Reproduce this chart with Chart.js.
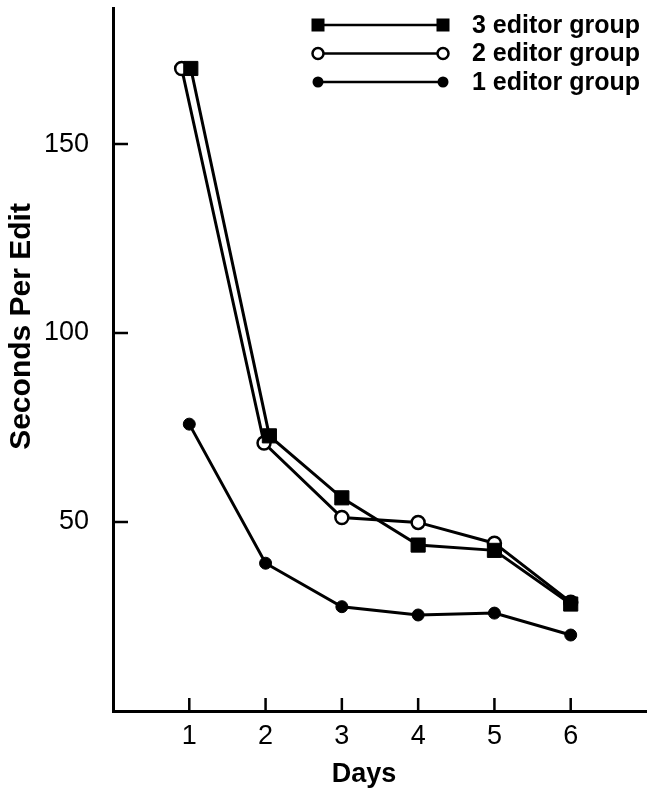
<!DOCTYPE html>
<html>
<head>
<meta charset="utf-8">
<title>Seconds Per Edit</title>
<script src="https://cdn.jsdelivr.net/npm/chart.js@4.4.1/dist/chart.umd.min.js"></script>
<style>
  html, body { margin: 0; padding: 0; background: #fff; }
  #wrap { width: 647px; height: 793px; position: relative; }
</style>
</head>
<body>
<div id="wrap"><canvas id="editChart"></canvas></div>
<script>
// values
var days3 = [1.02, 2.05, 3, 4, 5, 6];
var secs3 = [170, 72.8, 56.4, 43.9, 42.5, 28.3];

var days2 = [0.9, 1.98, 3, 4, 5, 6];
var secs2 = [170, 70.9, 51.2, 49.9, 44.4, 28.8];

var days1 = [1, 2, 3, 4, 5, 6];
var secs1 = [75.9, 39.1, 27.6, 25.4, 25.9, 20.1];

var groupNames = ['3 editor group', '2 editor group', '1 editor group'];
var dayTicks = [1, 2, 3, 4, 5, 6];
var secTicks = [50, 100, 150];

var FONT = '"Liberation Sans", Arial, sans-serif';

function pairs(xs, ys) {
    return xs.map(function (v, i) { return { x: v, y: ys[i] }; });
}

// inside tick marks, the two axis titles and the line-sample legend
var decor = {
    id: 'decor',
    afterDraw: function (chart) {
        var ctx = chart.ctx;
        var a = chart.chartArea;
        var xs = chart.scales.x, ys = chart.scales.y;

        ctx.save();
        ctx.strokeStyle = '#000';
        ctx.lineWidth = 2.5;
        ctx.beginPath();
        secTicks.forEach(function (v) {
            var py = ys.getPixelForValue(v);
            ctx.moveTo(a.left, py);
            ctx.lineTo(a.left + 15, py);
        });
        dayTicks.forEach(function (v) {
            var px = xs.getPixelForValue(v);
            ctx.moveTo(px, a.bottom);
            ctx.lineTo(px, a.bottom - 13);
        });
        ctx.stroke();

        ctx.fillStyle = '#000';
        ctx.textAlign = 'center';
        ctx.textBaseline = 'middle';
        ctx.font = 'bold 27px ' + FONT;
        ctx.fillText('Days', a.left + (a.right - a.left) * 0.47, 775);

        ctx.save();
        ctx.translate(22, a.top + (a.bottom - a.top) * 0.453);
        ctx.rotate(-Math.PI / 2);
        ctx.font = 'bold 30px ' + FONT;
        ctx.fillText('Seconds Per Edit', 0, 0);
        ctx.restore();

        // legend
        ctx.font = 'bold 25px ' + FONT;
        ctx.textAlign = 'left';
        chart.data.datasets.forEach(function (ds, i) {
            var ry = 25 + i * 28.5;
            var x1 = 318, x2 = 443;
            ctx.lineWidth = 2.5;
            ctx.beginPath();
            ctx.moveTo(x1, ry);
            ctx.lineTo(x2, ry);
            ctx.stroke();
            [x1, x2].forEach(function (mx) {
                ctx.beginPath();
                if (ds.pointStyle === 'rect') {
                    ctx.fillStyle = '#000';
                    ctx.fillRect(mx - 6.5, ry - 6.5, 13, 13);
                } else if (ds.pointBackgroundColor === '#fff') {
                    ctx.arc(mx, ry, 5.5, 0, Math.PI * 2);
                    ctx.fillStyle = '#fff';
                    ctx.fill();
                    ctx.lineWidth = 2.5;
                    ctx.stroke();
                } else {
                    ctx.arc(mx, ry, 5.5, 0, Math.PI * 2);
                    ctx.fillStyle = '#000';
                    ctx.fill();
                }
            });
            ctx.fillStyle = '#000';
            ctx.fillText(ds.label, 472, ry + 1);
        });
        ctx.restore();
    }
};

new Chart(document.getElementById('editChart').getContext('2d'), {
    type: 'line',
    data: {
        datasets: [{
            label: groupNames[0],
            data: pairs(days3, secs3),
            borderColor: '#000',
            borderWidth: 3,
            pointStyle: 'rect',
            pointRadius: 10,
            pointBackgroundColor: '#000',
            pointBorderColor: '#000',
            pointBorderWidth: 1
        }, {
            label: groupNames[1],
            data: pairs(days2, secs2),
            borderColor: '#000',
            borderWidth: 3,
            pointStyle: 'circle',
            pointRadius: 6.5,
            pointBackgroundColor: '#fff',
            pointBorderColor: '#000',
            pointBorderWidth: 2.5
        }, {
            label: groupNames[2],
            data: pairs(days1, secs1),
            borderColor: '#000',
            borderWidth: 3,
            pointStyle: 'circle',
            pointRadius: 6,
            pointBackgroundColor: '#000',
            pointBorderColor: '#000',
            pointBorderWidth: 1
        }]
    },
    options: {
        responsive: true,
        maintainAspectRatio: false,
        animation: false,
        layout: { autoPadding: false, padding: { top: 8, left: 0, right: 0, bottom: 0 } },
        elements: { line: { tension: 0 } },
        plugins: {
            legend: { display: false },
            tooltip: { enabled: false }
        },
        scales: {
            x: {
                type: 'linear',
                min: 0,
                max: 7,
                afterFit: function (s) {
                    s.height = 82;
                    s.paddingLeft = 0;
                    s.paddingRight = 0;
                },
                grid: { display: false },
                border: { display: true, color: '#000', width: 3 },
                ticks: {
                    stepSize: 1,
                    padding: 1,
                    color: '#000',
                    font: { family: FONT, size: 27 },
                    callback: function (v) { return dayTicks.indexOf(v) >= 0 ? String(v) : ''; }
                }
            },
            y: {
                min: 0,
                max: 186,
                afterFit: function (s) {
                    s.width = 113;
                    s.paddingTop = 0;
                    s.paddingBottom = 0;
                },
                grid: { display: false },
                border: { display: true, color: '#000', width: 3 },
                ticks: {
                    stepSize: 50,
                    includeBounds: false,
                    padding: 16,
                    color: '#000',
                    font: { family: FONT, size: 27 },
                    callback: function (v) { return secTicks.indexOf(v) >= 0 ? String(v) : ''; }
                }
            }
        }
    },
    plugins: [decor]
});
</script>
</body>
</html>
